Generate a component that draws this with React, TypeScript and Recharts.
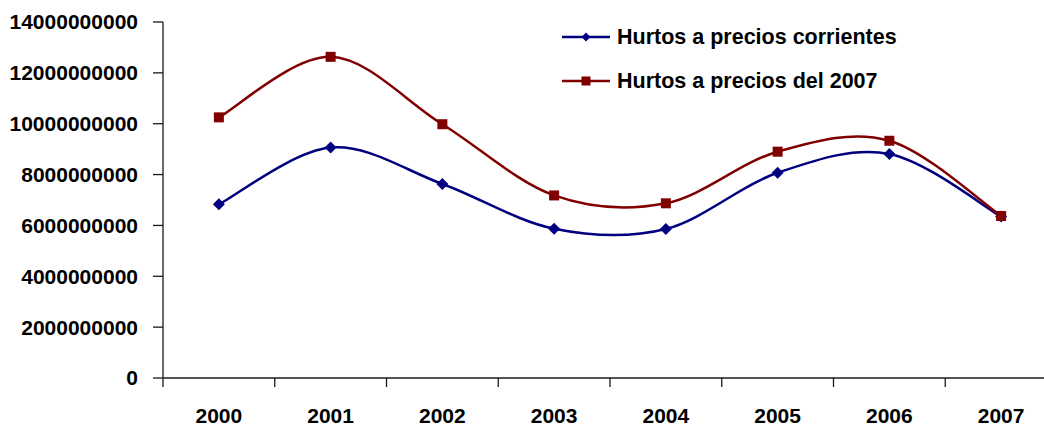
import React from "react";
import { Legend, Line, LineChart, XAxis, YAxis } from "recharts";

const years = ["2000", "2001", "2002", "2003", "2004", "2005", "2006", "2007"];
const corrientes = [6.83e9, 9.06e9, 7.63e9, 5.87e9, 5.86e9, 8.07e9, 8.81e9, 6.35e9];
const precios2007 = [10.25e9, 12.63e9, 9.98e9, 7.18e9, 6.87e9, 8.9e9, 9.33e9, 6.37e9];
const yTicks = [0, 2e9, 4e9, 6e9, 8e9, 10e9, 12e9, 14e9];

const BLUE = "#000080";
const RED = "#800000";
const AXIS = "#1a1a1a";
const FONT = "'Liberation Sans', Arial, sans-serif";

const data = years.map((y, i) => ({
  x: i + 0.5,
  year: y,
  corrientes: corrientes[i],
  precios2007: precios2007[i],
}));

// boundaries at integers, labels at the half steps
const xTicks: number[] = [];
for (let i = 0; i <= years.length * 2; i++) xTicks.push(i / 2);

// excel-like smoothed line (catmull-rom as bezier)
const smooth = (context: any) => {
  let pts: number[][] = [];
  return {
    areaStart() {},
    areaEnd() {},
    lineStart() {
      pts = [];
    },
    lineEnd() {
      if (!pts.length) return;
      context.moveTo(pts[0][0], pts[0][1]);
      for (let i = 0; i < pts.length - 1; i++) {
        const p0 = pts[i - 1] || pts[i];
        const p1 = pts[i];
        const p2 = pts[i + 1];
        const p3 = pts[i + 2] || p2;
        context.bezierCurveTo(
          p1[0] + (p2[0] - p0[0]) / 6,
          p1[1] + (p2[1] - p0[1]) / 6,
          p2[0] - (p3[0] - p1[0]) / 6,
          p2[1] - (p3[1] - p1[1]) / 6,
          p2[0],
          p2[1]
        );
      }
    },
    point(x: number, y: number) {
      pts.push([x, y]);
    },
  };
};

const Diamond = ({ cx, cy, size = 6 }: any) => (
  <polygon
    points={`${cx},${cy - size} ${cx + size},${cy} ${cx},${cy + size} ${cx - size},${cy}`}
    fill={BLUE}
  />
);

const Square = ({ cx, cy, side = 10 }: any) => (
  <rect x={cx - side / 2} y={cy - side / 2} width={side} height={side} fill={RED} />
);

const XTick = ({ x, y, payload }: any) => {
  const v = payload.value;
  if (Number.isInteger(v)) {
    return <line x1={x} y1={y} x2={x} y2={y + 9} stroke={AXIS} strokeWidth={1.3} />;
  }
  return (
    <text
      x={x}
      y={y + 37}
      textAnchor="middle"
      dominantBaseline="central"
      fontFamily={FONT}
      fontWeight="bold"
      fontSize={21}
      fill="#000"
    >
      {years[Math.floor(v)]}
    </text>
  );
};

const LegendBox = () => {
  const rows = [
    { label: "Hurtos a precios corrientes", color: BLUE, kind: "d" },
    { label: "Hurtos a precios del 2007", color: RED, kind: "s" },
  ];
  return (
    <div>
      {rows.map((r) => (
        <div key={r.label} style={{ display: "flex", alignItems: "center", height: 44 }}>
          <svg width={55} height={20}>
            <line x1={0} y1={10} x2={48} y2={10} stroke={r.color} strokeWidth={2.5} />
            {r.kind === "d" ? <Diamond cx={24} cy={10} size={4.5} /> : <Square cx={24} cy={10} side={9} />}
          </svg>
          <span
            style={{
              fontFamily: FONT,
              fontWeight: "bold",
              fontSize: 21.5,
              color: "#000",
              whiteSpace: "nowrap",
            }}
          >
            {r.label}
          </span>
        </div>
      ))}
    </div>
  );
};

export default function App() {
  return (
    <div
      style={{
        position: "absolute",
        left: 0,
        top: 0,
        width: 1044,
        height: 434,
        overflow: "hidden",
        background: "#fff",
      }}
    >
      <LineChart
        width={1060}
        height={434}
        data={data}
        margin={{ top: 22, right: 3, left: 0, bottom: 0 }}
      >
        <XAxis
          dataKey="x"
          type="number"
          domain={[0, years.length]}
          ticks={xTicks}
          interval={0}
          tick={<XTick />}
          tickLine={false}
          tickSize={0}
          tickMargin={0}
          height={56}
          stroke={AXIS}
          strokeWidth={1.3}
        />
        <YAxis
          domain={[0, 14e9]}
          ticks={yTicks}
          interval={0}
          width={163}
          tickSize={10}
          tickMargin={15}
          tickFormatter={(v: number) => String(v)}
          tick={{ fontFamily: FONT, fontWeight: "bold", fontSize: 21, fill: "#000" }}
          stroke={AXIS}
          strokeWidth={1.3}
        />
        <Legend
          layout="vertical"
          align="center"
          verticalAlign="middle"
          content={<LegendBox />}
          wrapperStyle={{ position: "absolute", left: 562, top: 15, width: 400 }}
        />
        <Line
          dataKey="corrientes"
          name="Hurtos a precios corrientes"
          type={smooth as any}
          stroke={BLUE}
          strokeWidth={2.5}
          dot={<Diamond />}
          activeDot={false}
          isAnimationActive={false}
        />
        <Line
          dataKey="precios2007"
          name="Hurtos a precios del 2007"
          type={smooth as any}
          stroke={RED}
          strokeWidth={2.5}
          dot={<Square />}
          activeDot={false}
          isAnimationActive={false}
        />
      </LineChart>
    </div>
  );
}
